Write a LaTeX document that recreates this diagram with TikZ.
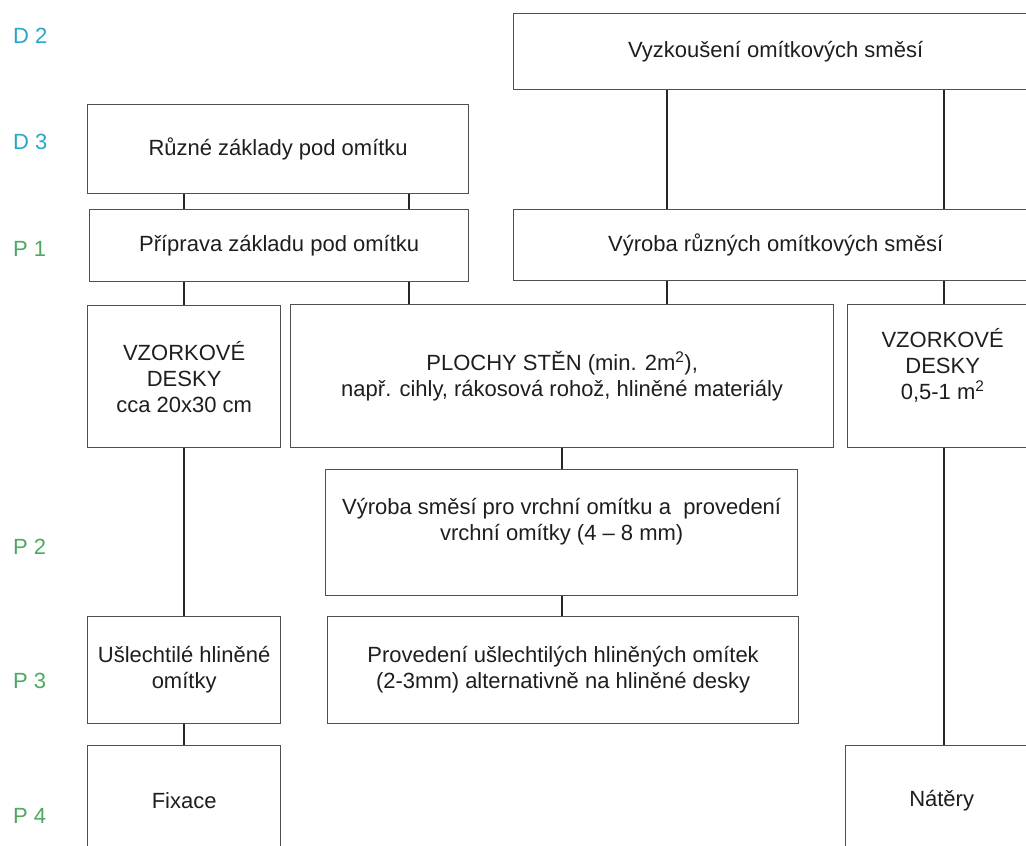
\documentclass[tikz,border=0pt]{standalone}
\usepackage{fontspec}
\setmainfont{Liberation Sans}
\definecolor{dcol}{RGB}{40,168,200}
\definecolor{pcol}{RGB}{78,168,96}
\definecolor{framecol}{RGB}{80,80,80}
\definecolor{textcol}{RGB}{30,30,30}
\tikzset{
  box/.style={draw=framecol, line width=1.3pt, anchor=north west, inner sep=0pt,
    align=center, text=textcol, font=\fontsize{22}{26}\selectfont},
  link/.style={draw=black!85, line width=1.8pt},
  level/.style={anchor=west, inner sep=0pt, font=\fontsize{22}{26}\selectfont},
}
\begin{document}
\begin{tikzpicture}[x=1pt,y=-1pt]
  \useasboundingbox (0,0) rectangle (1026,846);
  \clip (0,0) rectangle (1026,846);
  %% level marks
  \node[level, text=dcol] (lvD2) at (13,36) {D 2};
  \node[level, text=dcol] (lvD3) at (13,142) {D 3};
  \node[level, text=pcol] (lvP1) at (13,249) {P 1};
  \node[level, text=pcol] (lvP2) at (13,547) {P 2};
  \node[level, text=pcol] (lvP3) at (13,681) {P 3};
  \node[level, text=pcol] (lvP4) at (13,816) {P 4};
  %% columns of the connectors
  \coordinate (colA) at (184,0);
  \coordinate (colB) at (409,0);
  \coordinate (colC) at (562,0);
  \coordinate (colD) at (667,0);
  \coordinate (colE) at (944,0);
  % Node: d2
  \node[box, minimum width=524pt, minimum height=76pt] (d2) at (513,13) {Vyzkoušení omítkových směsí};
  % Node: d3
  \node[box, minimum width=381pt, minimum height=89pt] (d3) at (87,104) {Různé základy pod omítku};
  % Node: p1l
  \node[box, minimum width=379pt, minimum height=72pt] (p1l) at (89,209) {Příprava základu pod omítku};
  % Node: p1r
  \node[box, minimum width=524pt, minimum height=71pt] (p1r) at (513,209) {Výroba různých omítkových směsí};
  % Node: vzl
  \node[box, minimum width=193pt, minimum height=142pt] (vzl) at (87,305) {VZORKOVÉ\\DESKY\\cca 20x30 cm};
  % Node: plochy
  \node[box, minimum width=543pt, minimum height=143pt] (plochy) at (290,304) {PLOCHY STĚN (min. 2m\textsuperscript{2}),\\např. cihly, rákosová rohož, hliněné materiály};
  % Node: vzr
  \node[box, minimum width=190pt, minimum height=143pt, text depth=25pt] (vzr) at (847,304) {VZORKOVÉ\\DESKY\\0,5-1 m\textsuperscript{2}};
  % Node: smes
  \node[box, minimum width=472pt, minimum height=126pt, text depth=27pt] (smes) at (325,469) {Výroba směsí pro vrchní omítku a \ provedení\\vrchní omítky (4 – 8 mm)};
  % Node: usl
  \node[box, minimum width=193pt, minimum height=107pt] (usl) at (87,616) {Ušlechtilé hliněné\\omítky};
  % Node: prov
  \node[box, minimum width=471pt, minimum height=107pt] (prov) at (327,616) {Provedení ušlechtilých hliněných omítek\\(2-3mm) alternativně na hliněné desky};
  % Node: fix
  \node[box, minimum width=193pt, minimum height=110pt] (fix) at (87,745) {Fixace};
  % Node: nat
  \node[box, minimum width=192pt, minimum height=110pt] (nat) at (845,745) {Nátěry};
  % Edge: d3 -> p1l
  \draw[link] (colA |- d3.south) -- (colA |- p1l.north);
  \draw[link] (colB |- d3.south) -- (colB |- p1l.north);
  % Edge: d2 -> p1r
  \draw[link] (colD |- d2.south) -- (colD |- p1r.north);
  \draw[link] (colE |- d2.south) -- (colE |- p1r.north);
  % Edge: p1l -> vzl, p1l -> plochy
  \draw[link] (colA |- p1l.south) -- (colA |- vzl.north);
  \draw[link] (colB |- p1l.south) -- (colB |- plochy.north);
  % Edge: p1r -> plochy, p1r -> vzr
  \draw[link] (colD |- p1r.south) -- (colD |- plochy.north);
  \draw[link] (colE |- p1r.south) -- (colE |- vzr.north);
  % Edge: plochy -> smes -> prov
  \draw[link] (colC |- plochy.south) -- (colC |- smes.north);
  \draw[link] (colC |- smes.south) -- (colC |- prov.north);
  % Edge: vzl -> usl -> fix
  \draw[link] (colA |- vzl.south) -- (colA |- usl.north);
  \draw[link] (colA |- usl.south) -- (colA |- fix.north);
  % Edge: vzr -> nat
  \draw[link] (colE |- vzr.south) -- (colE |- nat.north);
\end{tikzpicture}
\end{document}
